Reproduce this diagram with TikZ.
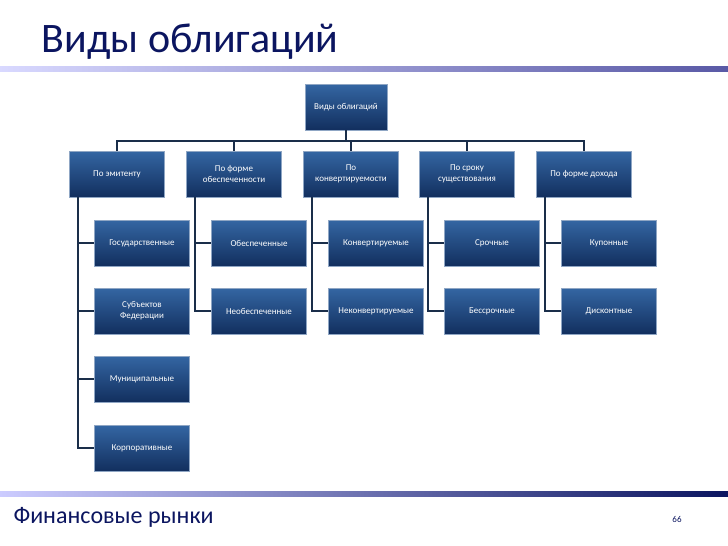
\documentclass[tikz,border=0pt]{standalone}
\usepackage{fontspec}
\setmainfont{Carlito}
\usetikzlibrary{positioning}
\definecolor{navy}{HTML}{0B1560}
\definecolor{boxtop}{HTML}{3466A3}
\definecolor{boxbot}{HTML}{122F5E}
\definecolor{rim}{HTML}{8FA6C4}
\definecolor{wire}{HTML}{1A2E4A}
\tikzset{
  kind/.style={draw=rim, line width=0.8pt, top color=boxtop, bottom color=boxbot,
    text=white, align=center, font=\fontsize{9}{11}\selectfont,
    minimum width=95pt, minimum height=46pt, inner sep=1pt},
  link/.style={draw=wire, line width=2pt}
}
\begin{document}
\begin{tikzpicture}[x=1pt, y=-1pt]
  \useasboundingbox (0,0) rectangle (728,546);

  % title and bars
  \node[anchor=west, text=navy, font=\fontsize{42}{46}\selectfont] (title) at (38,42) {Виды облигаций};
  \shade[left color=blue!15!white, right color=gray!70!blue] (0,66) rectangle (728,71);
  \shade[left color=blue!20!white, right color=navy] (0,491) rectangle (728,496);
  \node[anchor=west, text=navy, font=\fontsize{24}{28}\selectfont] (foot) at (10,517) {Финансовые рынки};
  \node[text=navy, font=\fontsize{9}{10}\selectfont] (page) at (677,519) {66};

  % root and groups
  \node[kind, minimum width=82pt] (root) at (346,107) {Виды облигаций};
  \coordinate (bus) at (346,141);
  \foreach \n/\x/\t in {a/117/По эмитенту, b/234/По форме\\обеспеченности,
      c/351/По\\конвертируемости, d/467/По сроку\\существования, e/584/По форме дохода}
    \node[kind] (\n) at (\x,174) {\t};
  \draw[link] (root.south) -- (bus);
  \draw[link] (a.north) |- (bus) -| (e.north);
  \foreach \n in {b,c,d}
    \draw[link] (\n.north) -- (\n.north |- bus);

  % leaves
  \node[kind] (a1) at (142,243) {Государственные};
  \node[kind] (a2) at (142,311) {Субъектов\\Федерации};
  \node[kind] (a3) at (142,379) {Муниципальные};
  \node[kind] (a4) at (142,448) {Корпоративные};
  \node[kind] (b1) at (259,243) {Обеспеченные};
  \node[kind] (b2) at (259,311) {Необеспеченные};
  \node[kind] (c1) at (376,243) {Конвертируемые};
  \node[kind] (c2) at (376,311) {Неконвертируемые};
  \node[kind] (d1) at (492,243) {Срочные};
  \node[kind] (d2) at (492,311) {Бессрочные};
  \node[kind] (e1) at (609,243) {Купонные};
  \node[kind] (e2) at (609,311) {Дисконтные};

  \foreach \p/\k in {a/4,b/2,c/2,d/2,e/2}{
    \coordinate (\p top) at ([xshift=9pt]\p.south west);
    \draw[link] (\p top) |- (\p\k.west);
    \foreach \i in {1,...,\k}
      \draw[link] (\p top |- \p\i.west) -- (\p\i.west);
  }
\end{tikzpicture}
\end{document}
